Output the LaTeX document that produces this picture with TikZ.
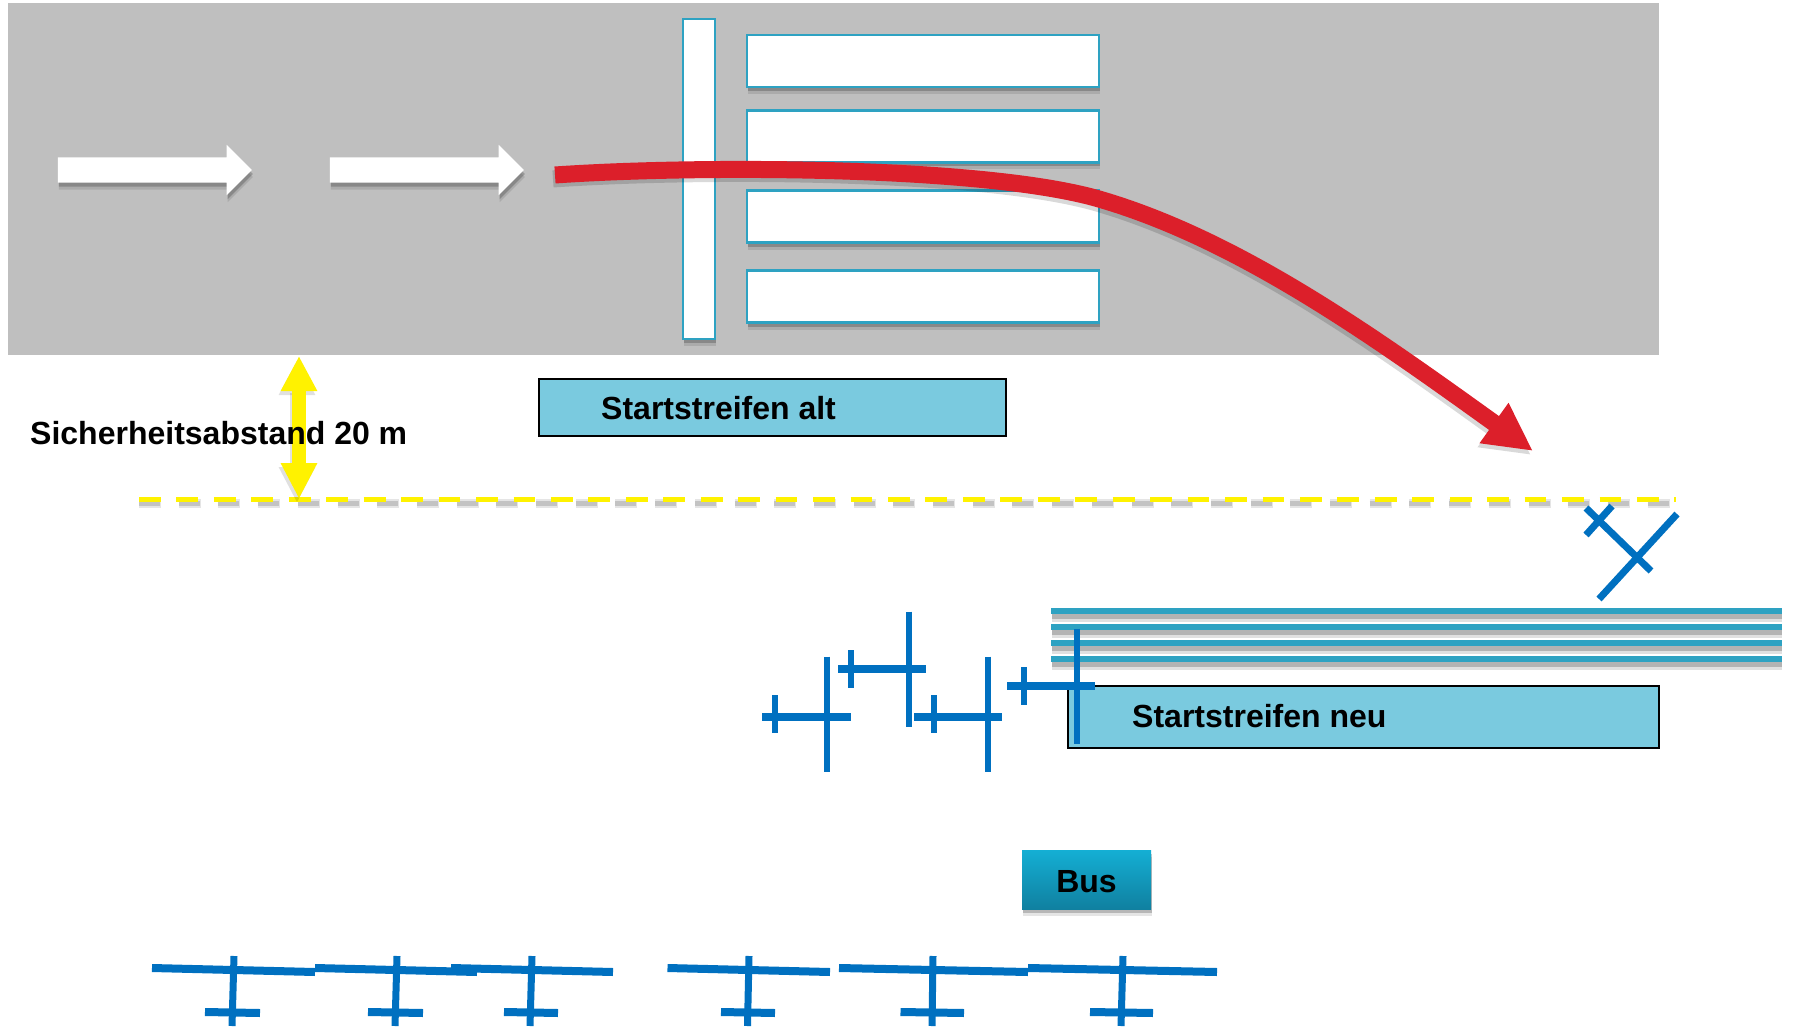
\documentclass[tikz,border=0pt]{standalone}
\usepackage{fontspec}
\setmainfont{Liberation Sans}
\usetikzlibrary{arrows.meta,shapes.arrows,shadows}
\definecolor{roadgray}{HTML}{BFBFBF}
\definecolor{stripteal}{HTML}{2EA2C2}
\definecolor{labelblue}{HTML}{7ACADF}
\definecolor{planeblue}{HTML}{0070C0}
\definecolor{takeoffred}{HTML}{DC1F2A}
\definecolor{bustop}{HTML}{14AFD4}
\definecolor{busbottom}{HTML}{1080A0}
\tikzset{
  softshadow/.style={
    drop shadow={shadow xshift=1pt,shadow yshift=-7pt,fill=black,opacity=.1},
    drop shadow={shadow xshift=1pt,shadow yshift=-4pt,fill=black,opacity=.2}},
  stripbar/.style={draw=stripteal,line width=2.5pt,fill=white,inner sep=0pt,softshadow},
  flowarrow/.style={single arrow,fill=white,minimum height=194pt,minimum width=50pt,inner xsep=0pt,inner ysep=12.5pt,
    single arrow head extend=12.5pt,single arrow head indent=0pt,softshadow},
  labelbox/.style={draw=black,line width=2pt,fill=labelblue,inner sep=0pt},
  boldlabel/.style={font=\fontsize{32}{36}\selectfont\bfseries,inner sep=0pt,anchor=base west},
}
\begin{document}
\begin{tikzpicture}[x=1pt,y=-1pt]
\useasboundingbox (0,0) rectangle (1793,1027);

\node[fill=roadgray,inner sep=0pt,minimum width=1651pt,minimum height=352pt] (road) at (833.5,179) {};

\node[stripbar,minimum width=32pt,minimum height=320pt] (cross) at (699,179) {};
\node[stripbar,minimum width=352pt,minimum height=52pt] (bar1) at (923,61) {};
\node[stripbar,minimum width=352pt,minimum height=52pt] (bar2) at (923,136.5) {};
\node[stripbar,minimum width=352pt,minimum height=52pt] (bar3) at (923,216.5) {};
\node[stripbar,minimum width=352pt,minimum height=52pt] (bar4) at (923,296.5) {};

\node[flowarrow] (flow1) at (148.5,170) {};
\node[flowarrow] (flow2) at (420.5,170) {};

% red take-off path
\coordinate (redA) at (555,175);
\coordinate (redB) at (1099,199);
\coordinate (redC) at (1533,451);
\begin{scope}[shift={(-2,4)}]
\path[draw=black,opacity=.15,line width=17pt,-{Triangle[length=48pt,width=46pt]}] ([xshift=-2pt,yshift=-4pt]redA) .. controls (700,165) and (985,166) .. ([xshift=-2pt,yshift=-4pt]redB) .. controls (1240,240) and (1377,339) .. ([xshift=-2pt,yshift=-4pt]redC);
\end{scope}
\path[draw=takeoffred,line width=17pt,-{Triangle[length=48pt,width=46pt]}] (redA) .. controls (700,165) and (985,166) .. (redB) .. controls (1240,240) and (1377,339) .. (redC);

\node[labelbox,minimum width=467pt,minimum height=57pt] (alt) at (772.5,407) {};
\node[boldlabel] (alttext) at (601,419) {Startstreifen alt};

% safety line
\coordinate (lineL) at (139,499);
\coordinate (lineR) at (1676,499);
\path[draw=black,opacity=.1,line width=9pt,dash pattern=on 22pt off 17.7pt] ([yshift=-4.5pt]lineL) -- ([yshift=-4.5pt]lineR);
\path[draw=black,opacity=.15,line width=5pt,dash pattern=on 21pt off 18.7pt] ([yshift=-4.5pt]lineL) -- ([yshift=-4.5pt]lineR);
\path[draw=yellow,line width=5pt,dash pattern=on 21.8pt off 15.65pt] (lineL) -- (lineR);

\coordinate (gapT) at (299,356);
\coordinate (gapB) at (299,499);
\path[draw=black,opacity=.12,line width=14pt,{Triangle[length=35pt,width=34pt]}-{Triangle[length=36pt,width=34pt]}] ([xshift=-2pt,yshift=-4pt]gapT) -- ([xshift=-2pt,yshift=-4pt]gapB);
\path[draw=yellow,line width=14pt,{Triangle[length=35pt,width=34pt]}-{Triangle[length=36pt,width=34pt]}] (gapT) -- (gapB);
\node[boldlabel] (gaptext) at (30,444) {Sicherheitsabstand 20 m};

% new strip
\foreach \sy in {611,627,643,659} {
  \path[draw=black,opacity=.12,line width=9pt] (1052,\sy+6) -- (1782,\sy+6);
  \path[draw=black,opacity=.2,line width=5pt] (1052,\sy+5) -- (1782,\sy+5);
  \path[draw=stripteal,line width=6pt] (1051,\sy) -- (1782,\sy);
}
\node[labelbox,minimum width=591pt,minimum height=62pt] (neu) at (1363.5,717) {};
\node[boldlabel] (neutext) at (1132,727) {Startstreifen neu};

% planes on the taxiway
\foreach \wx/\wy/\fy/\fa/\fb/\tx in {827/714/717/762/851/775,909/669/669/838/926/851,988/714/717/914/1002/934,1077/686/686/1007/1095/1024} {
  \path[draw=planeblue,line width=6.7pt] (\wx,\wy-57.5) -- (\wx,\wy+57.5);
  \path[draw=planeblue,line width=7.3pt] (\fa,\fy) -- (\fb,\fy);
  \path[draw=planeblue,line width=6.7pt] (\tx,\wy-19) -- (\tx,\wy+19);
}

% plane at the runway
\path[draw=planeblue,line width=7pt] (1677,514) -- (1599,599);
\path[draw=planeblue,line width=7pt] (1586,508) -- (1651,571);
\path[draw=planeblue,line width=7pt] (1612,506) -- (1586,535);

\node[minimum width=129pt,minimum height=59pt,inner sep=0pt,top color=bustop,bottom color=busbottom,softshadow,
  text height=25pt,text depth=0pt,font=\fontsize{32}{36}\selectfont\bfseries] (bus) at (1086.5,879.5) {Bus};

% planes in the parking row
\foreach \wa/\wb/\ft/\fb/\ta/\tb in {152/315/234/232/205/260,315/477/397/395/368/423,451/613/532/530/504/558,667.5/830/749/747.5/721/775,839/1028/933/932/900.5/964,1028/1217/1123/1121/1090/1153} {
  \path[draw=planeblue,line width=7pt] (\ft,956) -- (\fb,1026);
  \path[draw=planeblue,line width=8pt] (\wa,968) -- (\wb,972);
  \path[draw=planeblue,line width=8pt] (\ta,1012) -- (\tb,1013);
}
\end{tikzpicture}
\end{document}
